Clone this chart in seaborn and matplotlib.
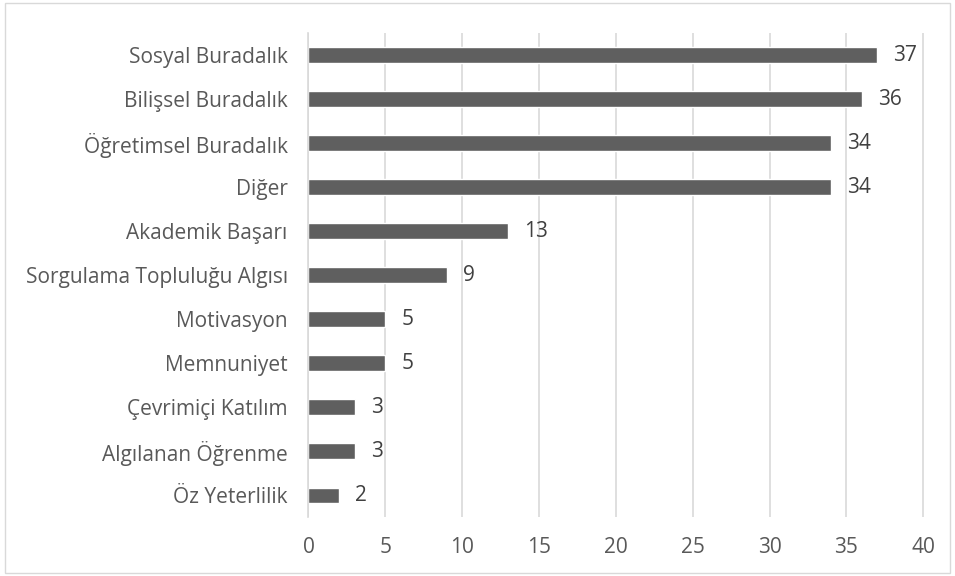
import matplotlib
matplotlib.use("Agg")
import matplotlib.pyplot as plt
import seaborn as sns
import pandas as pd
from matplotlib.patches import Rectangle

categories = ["Sosyal Buradalık", "Bilişsel Buradalık", "Öğretimsel Buradalık", "Diğer",
              "Akademik Başarı", "Sorgulama Topluluğu Algısı", "Motivasyon", "Memnuniyet",
              "Çevrimiçi Katılım", "Algılanan Öğrenme", "Öz Yeterlilik"]
counts = [37, 36, 34, 34, 13, 9, 5, 5, 3, 3, 2]

df = pd.DataFrame({"kategori": categories, "sayi": counts})

sns.set_style("white")
plt.rcParams['font.family'] = ['Open Sans', 'DejaVu Sans']
text_color = "#595959"

fig = plt.figure(figsize=(9.55, 5.76), dpi=100)
ax = fig.add_axes([0.323, 0.1016, 0.6445, 0.841])

sns.barplot(data=df, x="sayi", y="kategori", color="#5f5f5f", saturation=1,
            width=0.36, ax=ax)

ax.set_xlim(0, 40.05)
ax.set_ylim(len(categories) - 0.5, -0.5)
ax.set_xticks(range(0, 41, 5))
ax.xaxis.grid(True, color="#d9d9d9", linewidth=1.2)
ax.set_axisbelow(True)
for s in ["top", "right", "bottom"]:
    ax.spines[s].set_visible(False)
ax.spines["left"].set_color("#d9d9d9")
ax.spines["left"].set_linewidth(1.2)
ax.set_xlabel("")
ax.set_ylabel("")
ax.tick_params(axis="both", length=0, colors=text_color, labelsize=15)
ax.tick_params(axis="x", pad=14)
ax.tick_params(axis="y", pad=15)

for i, v in enumerate(counts):
    ax.text(v + 1.05, i, str(v), va="center", ha="left", fontsize=15, color="#404040")

fig.patches.append(Rectangle((0.005, 0.005), 0.99, 0.99, transform=fig.transFigure,
                             fill=False, edgecolor="#d9d9d9", linewidth=1))

fig.savefig("out.png", dpi=100)
